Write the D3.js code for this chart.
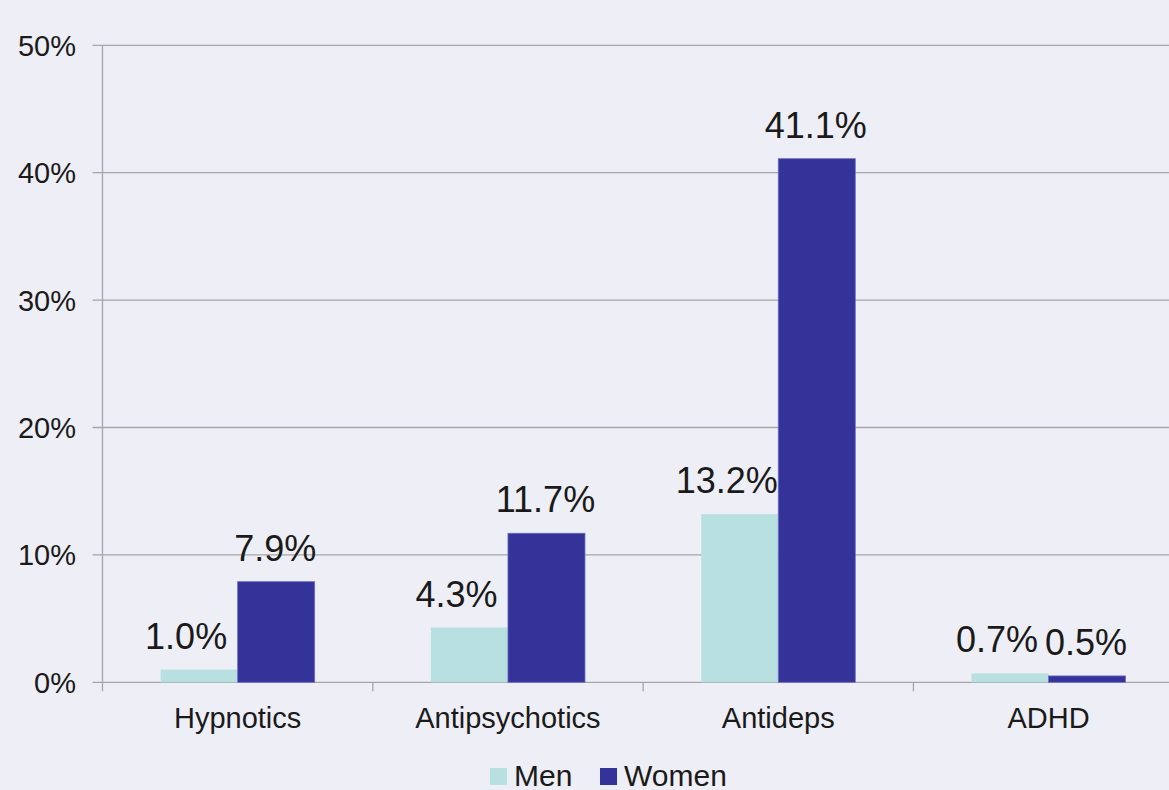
<!DOCTYPE html>
<html>
<head>
<meta charset="utf-8">
<script src="https://cdn.jsdelivr.net/npm/d3@7"></script>
<style>
  html, body { margin: 0; padding: 0; background: #eeeef6; }
  svg { display: block; font-family: "Liberation Sans", Arial, sans-serif; }
</style>
</head>
<body>
<div id="chart"></div>
<script>
// data
const categories = ["Hypnotics", "Antipsychotics", "Antideps", "ADHD"];
const seriesNames = ["Men", "Women"];
const menValues = [1.0, 4.3, 13.2, 0.7];
const womenValues = [7.9, 11.7, 41.1, 0.5];
const yTicks = [0, 10, 20, 30, 40, 50];

const colors = { Men: "#b9e0e1", Women: "#333399" };

const width = 1169, height = 790;
const plotLeft = 102.5, plotTop = 45.3, plotBottom = 682.3;
const step = 270.3;

const svg = d3.select("#chart").append("svg")
  .attr("width", width)
  .attr("height", height);

svg.append("rect")
  .attr("width", width)
  .attr("height", height)
  .attr("fill", "#eeeef6");

const x = d3.scaleBand()
  .domain(categories)
  .range([plotLeft, plotLeft + step * categories.length])
  .paddingInner(0.43)
  .paddingOuter(0.215);

const xSub = d3.scaleBand()
  .domain(seriesNames)
  .range([0, x.bandwidth()]);

const y = d3.scaleLinear()
  .domain([0, 50])
  .range([plotBottom, plotTop]);

// gridlines + y labels
svg.selectAll(".grid")
  .data(yTicks)
  .enter().append("line")
  .attr("class", "grid")
  .attr("x1", plotLeft - 10)
  .attr("x2", width)
  .attr("y1", d => y(d))
  .attr("y2", d => y(d))
  .attr("stroke", "#a6a6a6")
  .attr("stroke-width", 1.3);

svg.selectAll(".ylab")
  .data(yTicks)
  .enter().append("text")
  .attr("class", "ylab")
  .attr("x", 76)
  .attr("y", d => y(d))
  .attr("dy", "0.36em")
  .attr("text-anchor", "end")
  .attr("font-size", "29px")
  .attr("fill", "#1a1a1a")
  .text(d => d + "%");

// y axis line
svg.append("line")
  .attr("x1", plotLeft).attr("x2", plotLeft)
  .attr("y1", y(50)).attr("y2", y(0) + 9)
  .attr("stroke", "#a6a6a6")
  .attr("stroke-width", 1.3);

// x tick marks between categories
svg.selectAll(".xtick")
  .data(d3.range(1, categories.length + 1))
  .enter().append("line")
  .attr("class", "xtick")
  .attr("x1", i => x.range()[0] + i * x.step())
  .attr("x2", i => x.range()[0] + i * x.step())
  .attr("y1", y(0))
  .attr("y2", y(0) + 9)
  .attr("stroke", "#a6a6a6")
  .attr("stroke-width", 1.3);

svg.selectAll(".xlab")
  .data(categories)
  .enter().append("text")
  .attr("class", "xlab")
  .attr("x", d => x(d) + x.bandwidth() / 2)
  .attr("y", 728)
  .attr("text-anchor", "middle")
  .attr("font-size", "29px")
  .attr("fill", "#1a1a1a")
  .text(d => d);

const rows = [];
categories.forEach((c, i) => {
  rows.push({ cat: c, series: "Men", value: menValues[i] });
  rows.push({ cat: c, series: "Women", value: womenValues[i] });
});

svg.selectAll(".bar")
  .data(rows)
  .enter().append("rect")
  .attr("class", "bar")
  .attr("x", d => x(d.cat) + xSub(d.series))
  .attr("y", d => y(d.value))
  .attr("width", xSub.bandwidth())
  .attr("height", d => y(0) - y(d.value))
  .attr("fill", d => colors[d.series])
  .attr("stroke", d => d.series === "Women" ? "#6f6fc0" : "none")
  .attr("stroke-width", 0.8);

// value labels (men labels sit a bit left like the original)
svg.selectAll(".val")
  .data(rows)
  .enter().append("text")
  .attr("class", "val")
  .attr("x", d => x(d.cat) + xSub(d.series) + xSub.bandwidth() / 2 + (d.series === "Men" ? -13 : -1))
  .attr("y", d => y(d.value) - 21)
  .attr("text-anchor", "middle")
  .attr("font-size", "36px")
  .attr("fill", "#1a1a1a")
  .text(d => d.value.toFixed(1) + "%");

// legend
const legend = svg.append("g");
const legendX = [490, 600];
seriesNames.forEach((s, i) => {
  legend.append("rect")
    .attr("x", legendX[i])
    .attr("y", 768)
    .attr("width", 17)
    .attr("height", 17)
    .attr("fill", colors[s]);
  legend.append("text")
    .attr("x", legendX[i] + 24)
    .attr("y", 786)
    .attr("font-size", "30px")
    .attr("fill", "#1a1a1a")
    .text(s);
});
</script>
</body>
</html>
